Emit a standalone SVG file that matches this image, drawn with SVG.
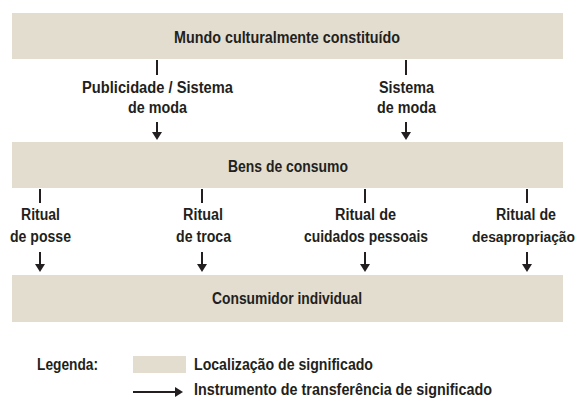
<svg xmlns="http://www.w3.org/2000/svg" width="579" height="398" viewBox="0 0 579 398">
<defs>
<style>
.box{fill:#e2ddcf;}
.t{font-family:"Liberation Sans",Arial,sans-serif;font-size:16px;fill:#231f20;font-weight:bold;}
.c{text-anchor:middle;}
.ln{stroke:#231f20;stroke-width:2;fill:none;}
</style>
<marker id="ah" viewBox="0 0 8 10" refX="4" refY="5" markerWidth="8" markerHeight="10" markerUnits="userSpaceOnUse" orient="auto">
<path d="M0,0 L8,5 L0,10 Z" fill="#231f20"/>
</marker>
</defs>
<rect width="579" height="398" fill="#ffffff"/>
<g id="mundo">
<rect class="box" x="12" y="13" width="551" height="46"/>
<text class="t c" x="287" y="43" textLength="226" lengthAdjust="spacingAndGlyphs">Mundo culturalmente constituído</text>
</g>
<g id="bens">
<rect class="box" x="12" y="142" width="551" height="46"/>
<text class="t c" x="288" y="172" textLength="120" lengthAdjust="spacingAndGlyphs">Bens de consumo</text>
</g>
<g id="consumidor">
<rect class="box" x="12" y="275" width="551" height="47"/>
<text class="t c" x="287" y="304" textLength="150" lengthAdjust="spacingAndGlyphs">Consumidor individual</text>
</g>
<g id="connectors">
<line class="ln" x1="157" y1="60" x2="157" y2="75"/>
<text class="t c" x="157.5" y="93" textLength="151" lengthAdjust="spacingAndGlyphs">Publicidade / Sistema</text>
<text class="t c" x="157.5" y="113" textLength="59" lengthAdjust="spacingAndGlyphs">de moda</text>
<line class="ln" x1="157" y1="122" x2="157" y2="136" marker-end="url(#ah)"/>

<line class="ln" x1="406" y1="60" x2="406" y2="75"/>
<text class="t c" x="406.5" y="93" textLength="55" lengthAdjust="spacingAndGlyphs">Sistema</text>
<text class="t c" x="406.5" y="113" textLength="59" lengthAdjust="spacingAndGlyphs">de moda</text>
<line class="ln" x1="406" y1="122" x2="406" y2="136" marker-end="url(#ah)"/>

<line class="ln" x1="40" y1="189" x2="40" y2="203"/>
<text class="t c" x="40.5" y="220" textLength="39" lengthAdjust="spacingAndGlyphs">Ritual</text>
<text class="t c" x="40.5" y="242" textLength="61" lengthAdjust="spacingAndGlyphs">de posse</text>
<line class="ln" x1="40" y1="252" x2="40" y2="268" marker-end="url(#ah)"/>

<line class="ln" x1="202" y1="189" x2="202" y2="203"/>
<text class="t c" x="203" y="220" textLength="40" lengthAdjust="spacingAndGlyphs">Ritual</text>
<text class="t c" x="203.5" y="242" textLength="55" lengthAdjust="spacingAndGlyphs">de troca</text>
<line class="ln" x1="202" y1="252" x2="202" y2="268" marker-end="url(#ah)"/>

<line class="ln" x1="365" y1="189" x2="365" y2="203"/>
<text class="t c" x="365.5" y="220" textLength="61" lengthAdjust="spacingAndGlyphs">Ritual de</text>
<text class="t c" x="366" y="242" textLength="124" lengthAdjust="spacingAndGlyphs">cuidados pessoais</text>
<line class="ln" x1="365" y1="252" x2="365" y2="268" marker-end="url(#ah)"/>

<line class="ln" x1="527" y1="189" x2="527" y2="203"/>
<text class="t c" x="526" y="220" textLength="60" lengthAdjust="spacingAndGlyphs">Ritual de</text>
<text class="t" x="472" y="242" style="font-size:14px" textLength="103" lengthAdjust="spacingAndGlyphs">desapropriação</text>
<line class="ln" x1="527" y1="252" x2="527" y2="268" marker-end="url(#ah)"/>
</g>
<g id="legenda">
<text class="t" x="37" y="370" textLength="61" lengthAdjust="spacingAndGlyphs">Legenda:</text>
<rect class="box" x="133" y="356" width="53" height="17"/>
<text class="t" x="194" y="370" textLength="179" lengthAdjust="spacingAndGlyphs">Localização de significado</text>
<line class="ln" x1="133" y1="392" x2="179" y2="392" marker-end="url(#ah)"/>
<text class="t" x="194" y="395" textLength="298" lengthAdjust="spacingAndGlyphs">Instrumento de transferência de significado</text>
</g>
</svg>
